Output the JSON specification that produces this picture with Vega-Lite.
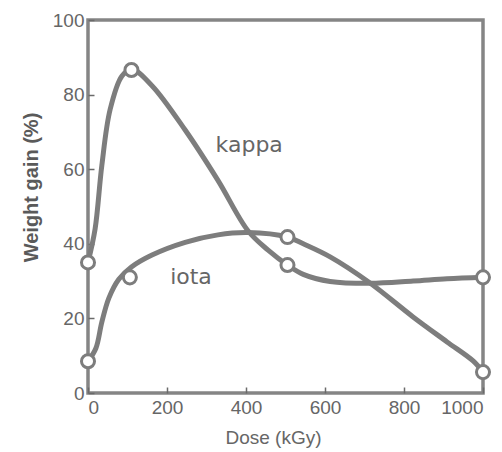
{
  "$schema": "https://vega.github.io/schema/vega-lite/v6.json",
  "autosize": "none",
  "width": 395,
  "height": 373,
  "padding": {"left": 88, "top": 20, "right": 19, "bottom": 59},
  "background": "white",
  "config": {
    "view": {"stroke": "#858585", "strokeWidth": 3.5},
    "font": "Liberation Sans",
    "axis": {
      "grid": false,
      "domain": false,
      "tickColor": "#6a6a6a",
      "tickWidth": 1.5,
      "tickSize": -6,
      "labelColor": "#666",
      "labelFont": "Liberation Sans",
      "labelFontSize": 19,
      "titleColor": "#666",
      "titleFont": "Liberation Sans",
      "titleFontSize": 19
    }
  },
  "datasets": {
    "curves": [
      {"series": "kappa", "dose": 0, "gain": 35},
      {"series": "kappa", "dose": 18, "gain": 44},
      {"series": "kappa", "dose": 35, "gain": 61},
      {"series": "kappa", "dose": 56, "gain": 76},
      {"series": "kappa", "dose": 86, "gain": 85},
      {"series": "kappa", "dose": 111, "gain": 86.8},
      {"series": "kappa", "dose": 162, "gain": 82.4},
      {"series": "kappa", "dose": 246, "gain": 70.5},
      {"series": "kappa", "dose": 329, "gain": 57},
      {"series": "kappa", "dose": 405, "gain": 43.5},
      {"series": "kappa", "dose": 456, "gain": 38.3},
      {"series": "kappa", "dose": 505, "gain": 34.3},
      {"series": "kappa", "dose": 545, "gain": 31.8},
      {"series": "kappa", "dose": 613, "gain": 29.9},
      {"series": "kappa", "dose": 714, "gain": 29.4},
      {"series": "kappa", "dose": 823, "gain": 30},
      {"series": "kappa", "dose": 909, "gain": 30.6},
      {"series": "kappa", "dose": 1000, "gain": 31},
      {"series": "iota", "dose": 0, "gain": 8.5},
      {"series": "iota", "dose": 20, "gain": 12},
      {"series": "iota", "dose": 35, "gain": 19},
      {"series": "iota", "dose": 53, "gain": 25.5},
      {"series": "iota", "dose": 78, "gain": 30.5},
      {"series": "iota", "dose": 110, "gain": 33.8},
      {"series": "iota", "dose": 162, "gain": 37},
      {"series": "iota", "dose": 246, "gain": 40.4},
      {"series": "iota", "dose": 329, "gain": 42.4},
      {"series": "iota", "dose": 405, "gain": 43},
      {"series": "iota", "dose": 505, "gain": 41.8},
      {"series": "iota", "dose": 545, "gain": 40},
      {"series": "iota", "dose": 613, "gain": 36.5},
      {"series": "iota", "dose": 714, "gain": 29.5},
      {"series": "iota", "dose": 823, "gain": 20.4},
      {"series": "iota", "dose": 909, "gain": 13.7},
      {"series": "iota", "dose": 975, "gain": 8.6},
      {"series": "iota", "dose": 1000, "gain": 5.6}
    ],
    "markers": [
      {"series": "kappa", "dose": 0, "gain": 35},
      {"series": "kappa", "dose": 110, "gain": 86.6},
      {"series": "kappa", "dose": 505, "gain": 34.3},
      {"series": "kappa", "dose": 1000, "gain": 31},
      {"series": "iota", "dose": 0, "gain": 8.5},
      {"series": "iota", "dose": 106, "gain": 31},
      {"series": "iota", "dose": 505, "gain": 41.8},
      {"series": "iota", "dose": 1000, "gain": 5.6}
    ],
    "labels": [
      {"label": "kappa", "dose": 323, "gain": 66.5},
      {"label": "iota", "dose": 208, "gain": 31}
    ]
  },
  "layer": [
    {
      "data": {"name": "curves"},
      "mark": {"type": "line", "interpolate": "catmull-rom", "color": "#7d7d7d", "strokeWidth": 5, "clip": false},
      "encoding": {
        "x": {
          "field": "dose", "type": "quantitative",
          "scale": {"domain": [0, 1000], "nice": false},
          "axis": {"values": [0, 200, 400, 600, 800, 1000], "format": "d", "title": "Dose (kGy)", "titleFontWeight": "normal", "labelPadding": 11, "titleX": 185, "titleY": 44, "titleBaseline": "middle", "titleAlign": "center"}
        },
        "y": {
          "field": "gain", "type": "quantitative",
          "scale": {"domain": [0, 100], "nice": false},
          "axis": {"values": [0, 20, 40, 60, 80, 100], "format": "d", "title": "Weight gain (%)", "titleFontWeight": "bold", "titleFontSize": 20, "titleColor": "#5a5a5a", "labelPadding": 10, "titleX": -57, "titleY": 167, "titleBaseline": "middle", "titleAlign": "center"}
        },
        "detail": {"field": "series"}
      }
    },
    {
      "data": {"name": "markers"},
      "mark": {"type": "point", "shape": "circle", "filled": true, "fill": "white", "stroke": "#7d7d7d", "strokeWidth": 3, "size": 170, "opacity": 1, "clip": false},
      "encoding": {
        "x": {"field": "dose", "type": "quantitative"},
        "y": {"field": "gain", "type": "quantitative"}
      }
    },
    {
      "data": {"name": "labels"},
      "mark": {"type": "text", "align": "left", "baseline": "middle", "fontSize": 22, "color": "#666", "font": "DejaVu Sans"},
      "encoding": {
        "x": {"field": "dose", "type": "quantitative"},
        "y": {"field": "gain", "type": "quantitative"},
        "text": {"field": "label"}
      }
    }
  ]
}
